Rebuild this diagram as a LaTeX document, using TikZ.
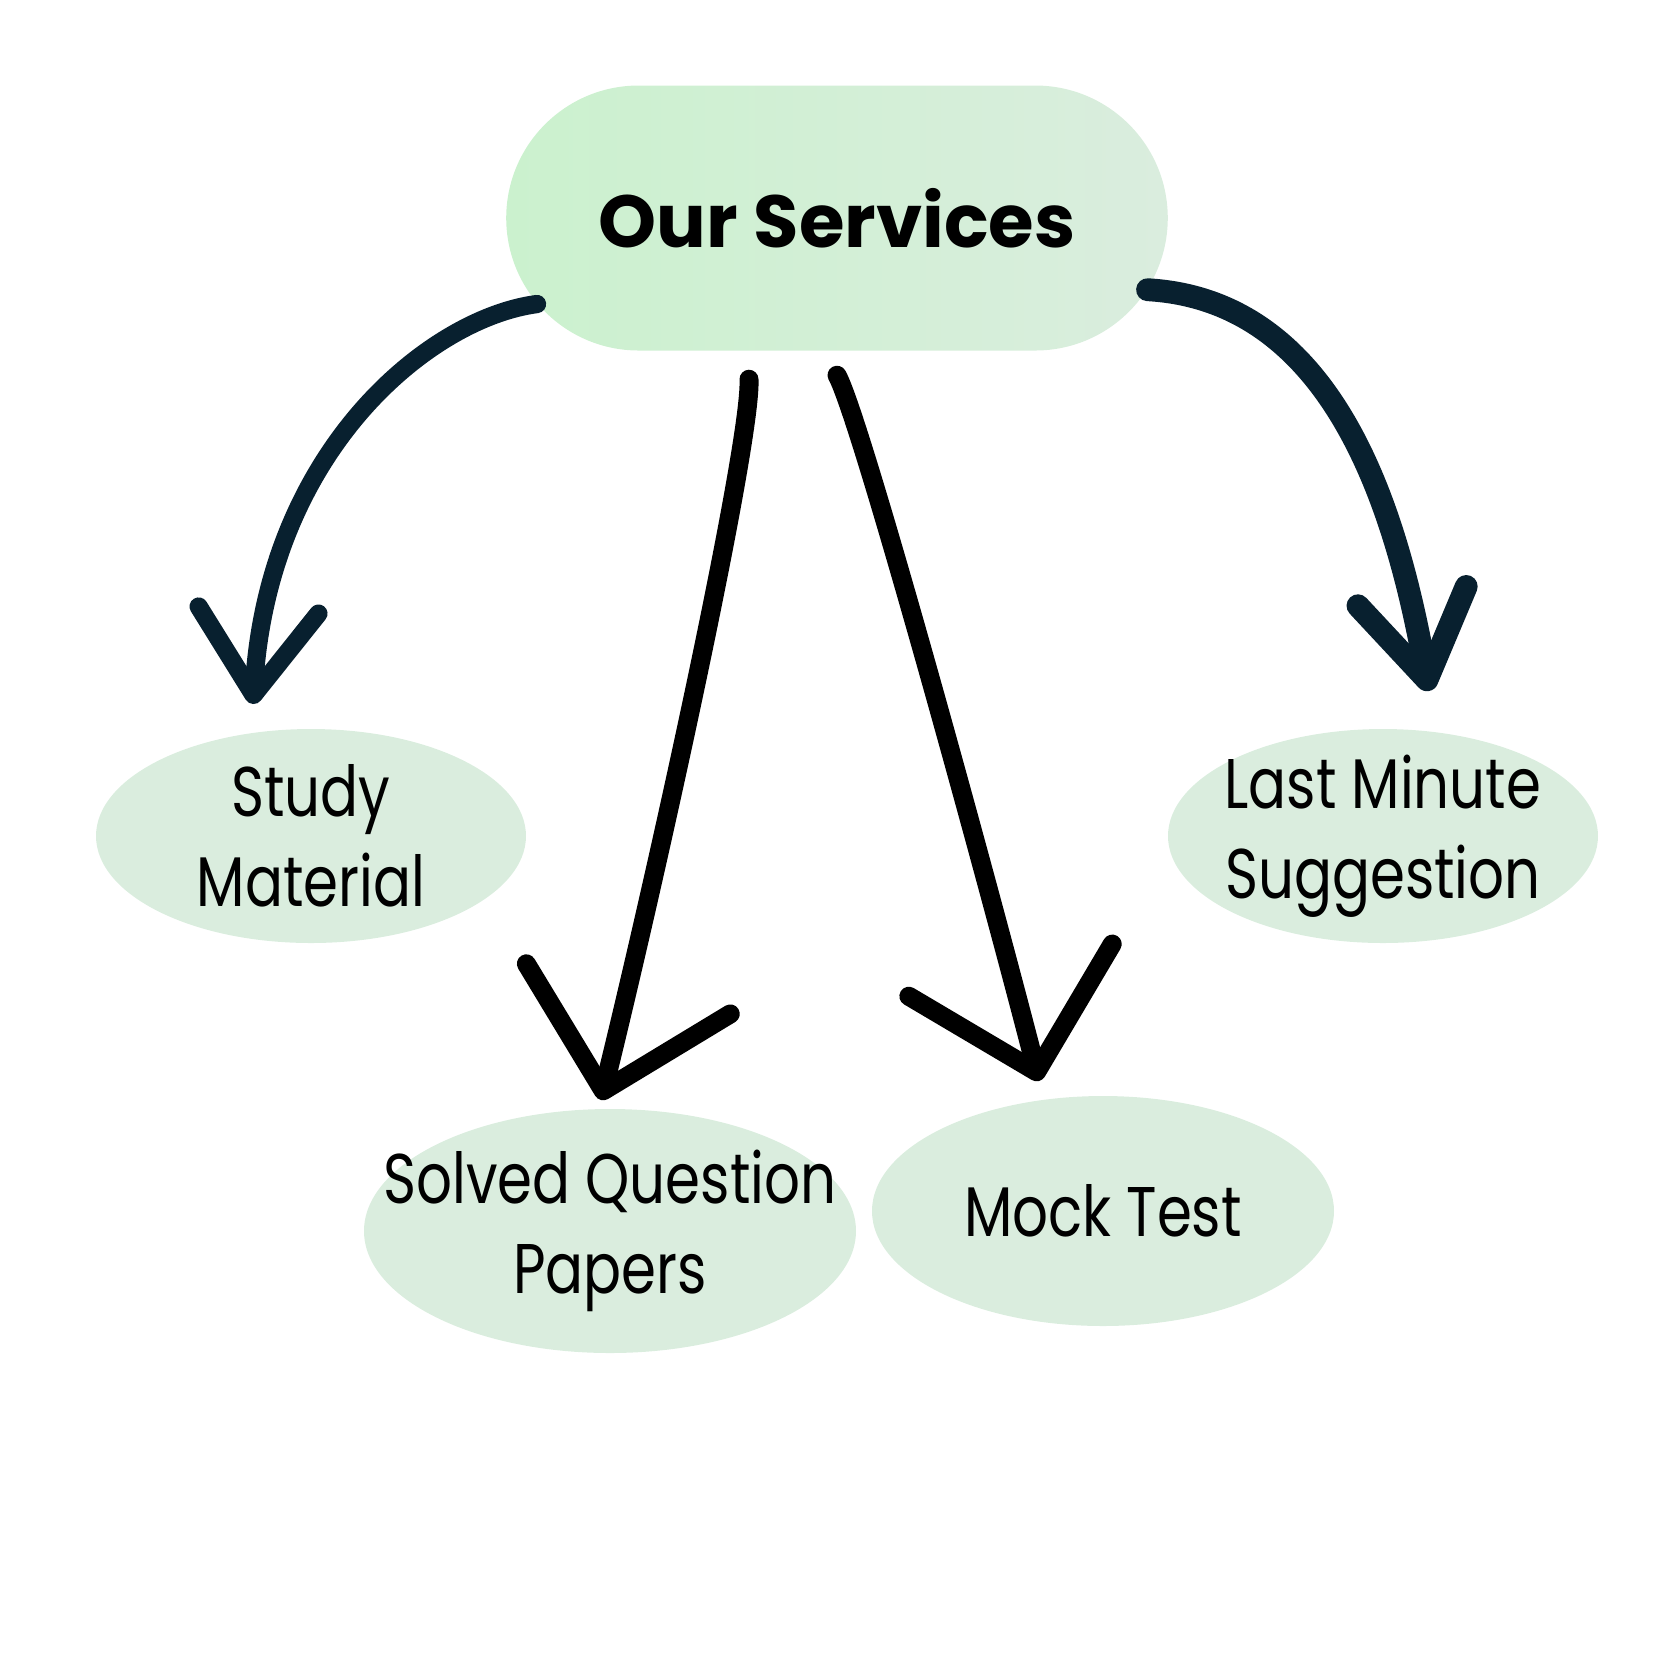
\documentclass[tikz,border=0pt]{standalone}
\usepackage{fontspec}
\setmainfont[FakeStretch=0.8]{Poppins}
\newfontfamily\titlefont{Poppins}
\usepackage{tikz}
\usetikzlibrary{positioning,arrows.meta,shapes.geometric,shapes.misc}
\definecolor{navy}{HTML}{08202F}
\definecolor{mint}{HTML}{DAEDDE}
\definecolor{mintl}{HTML}{CBF1CE}

\begin{document}
\begin{tikzpicture}[x=0.1mm,y=-0.1mm]
 \tikzset{item/.style={ellipse,fill=mint,inner xsep=-8mm,inner ysep=-3mm,align=center,font=\fontsize{20}{25.5}\selectfont},
  bent/.style={navy,line width=5.2pt,line cap=round,-{Straight Barb[length=8.5mm,width=12mm,round]}},
  brush/.style={black,line width=5.4pt,line cap=round,-{Straight Barb[length=10.5mm,width=21mm,round]}}}
 \useasboundingbox (0,0) rectangle (1654,1654);
 \node[rounded rectangle,minimum width=68.5mm,minimum height=26.5mm,left color=mintl,right color=mint,font=\titlefont\bfseries\fontsize{21}{26}\selectfont] (S) at (837,218) {Our Services};
 \node[item,minimum width=43mm,minimum height=21.4mm] (M) at (311,836) {Study\\Material};
 \node[item,minimum width=43mm,minimum height=21.4mm] (L) at (1383,836) {Last Minute\\Suggestion};
 \node[item,minimum width=49.2mm,minimum height=24.4mm] (Q) at (610,1231) {Solved Question\\Papers};
 \node[item,minimum width=46.2mm,minimum height=23mm] (T) at (1103,1211) {Mock Test};

 \coordinate (m) at (253,704);
 \coordinate (l) at (1429,691);
 \coordinate (q) at (601,1100);
 \coordinate (t) at (1039,1081);

 \draw[bent] (S.196) .. controls (430,318) and (268,450) .. (m);
 \draw[bent,line width=6.5pt,-{Straight Barb[length=8.5mm,width=11mm,round]}] (S.-13) .. controls (1330,300) and (1395,500) .. (l);
 \draw[brush] ([xshift=-8.8mm,yshift=-2.8mm]S.south) .. controls (752,440) and (660,860) .. (q);
 \draw[brush] ([yshift=-2.4mm]S.south) .. controls (860,415) and (990,890) .. (t);
\end{tikzpicture}
\end{document}
